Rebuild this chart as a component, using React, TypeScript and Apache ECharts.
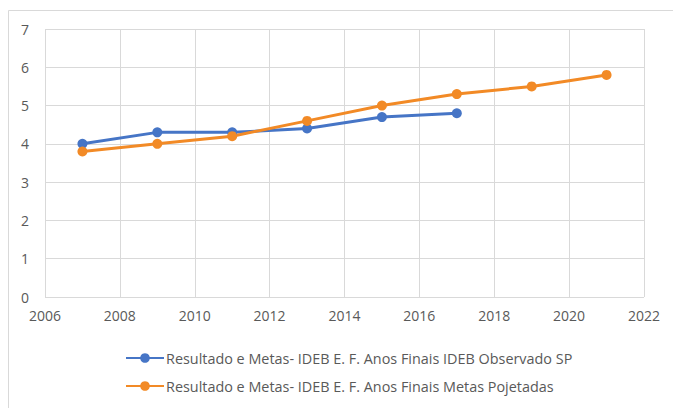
import React, { useEffect, useRef } from "react";
import * as echarts from "echarts";

const observedYears = [2007, 2009, 2011, 2013, 2015, 2017];
const observedValues = [4.0, 4.3, 4.3, 4.4, 4.7, 4.8];
const targetYears = [2007, 2009, 2011, 2013, 2015, 2017, 2019, 2021];
const targetValues = [3.8, 4.0, 4.2, 4.6, 5.0, 5.3, 5.5, 5.8];
const seriesNames = [
  "Resultado e Metas- IDEB E. F. Anos Finais IDEB Observado SP",
  "Resultado e Metas- IDEB E. F. Anos Finais Metas Pojetadas",
];

export default function App() {
  const ref = useRef<HTMLDivElement>(null);
  useEffect(() => {
    document.body.style.margin = "0";
    const chart = echarts.init(ref.current!, null, { renderer: "svg" });
    const font = "Open Sans";
    chart.setOption({
      animation: false,
      backgroundColor: "#ffffff",
      textStyle: { fontFamily: font },
      graphic: [
        {
          type: "rect",
          left: 6,
          top: 8,
          shape: { width: 700, height: 440 },
          style: { fill: "none", stroke: "#d9d9d9", lineWidth: 1 },
          silent: true,
        },
      ],
      grid: { left: 45, right: 29, top: 29, bottom: 111 },
      xAxis: {
        type: "value",
        min: 2006,
        max: 2022,
        interval: 2,
        axisLine: { show: false },
        axisTick: { show: false },
        splitLine: { show: true, lineStyle: { color: "#d9d9d9", width: 1 } },
        axisLabel: {
          color: "#595959",
          fontSize: 14,
          margin: 11,
          fontFamily: font,
          formatter: (v: number) => String(v),
        },
      },
      yAxis: {
        type: "value",
        min: 0,
        max: 7,
        interval: 1,
        axisLine: { show: false },
        axisTick: { show: false },
        splitLine: { show: true, lineStyle: { color: "#d9d9d9", width: 1 } },
        axisLabel: { color: "#595959", fontSize: 14, margin: 16, fontFamily: font },
      },
      legend: {
        orient: "vertical",
        left: 120,
        top: 346,
        itemGap: 14,
        itemWidth: 38,
        itemHeight: 12,
        textStyle: { color: "#595959", fontSize: 14.4, fontFamily: font, padding: [0, 0, 0, -3] },
        data: seriesNames,
      },
      series: [
        {
          name: seriesNames[0],
          type: "line",
          data: observedYears.map((y, i) => [y, observedValues[i]]),
          symbol: "circle",
          symbolSize: 10,
          lineStyle: { width: 3, color: "#4675C6" },
          itemStyle: { color: "#4675C6" },
        },
        {
          name: seriesNames[1],
          type: "line",
          data: targetYears.map((y, i) => [y, targetValues[i]]),
          symbol: "circle",
          symbolSize: 10,
          lineStyle: { width: 3, color: "#F28A26" },
          itemStyle: { color: "#F28A26" },
        },
      ],
    });
    return () => chart.dispose();
  }, []);
  return <div ref={ref} style={{ width: 673, height: 408 }} />;
}
